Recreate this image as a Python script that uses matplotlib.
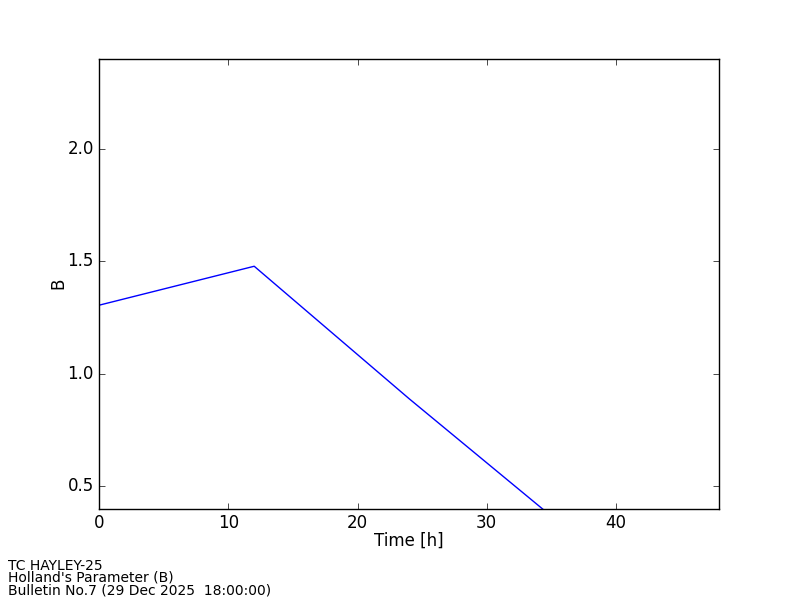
import matplotlib
matplotlib.use('Agg')
import matplotlib.pyplot as plt

#dados
horas = [0, 12, 24, 36]
holland_b = [1.305, 1.478, 0.889, 0.32]

#textos
titulo = ['TC HAYLEY-25', "Holland's Parameter (B)", 'Bulletin No.7 (29 Dec 2025  18:00:00)']

plt.style.use('classic')
fig = plt.figure(figsize=(8, 6), dpi=100, facecolor='white')
ax = fig.add_axes([0.124, 0.152, 0.775, 0.75])

ax.plot(horas, holland_b, color='b', linewidth=1)
ax.set_xlim(0, 48)
ax.set_ylim(0.4, 2.4)
ax.set_xticks([0, 10, 20, 30, 40])
ax.set_yticks([0.5, 1.0, 1.5, 2.0])
ax.set_xlabel('Time [h]', labelpad=-0.5)
ax.set_ylabel('B', labelpad=0)

#rodape
fig.text(0.01, 0.005, '\n'.join(titulo), fontsize=10, ha='left', va='bottom',
         linespacing=0.82)

fig.savefig('out.png', dpi=100, facecolor='white')
